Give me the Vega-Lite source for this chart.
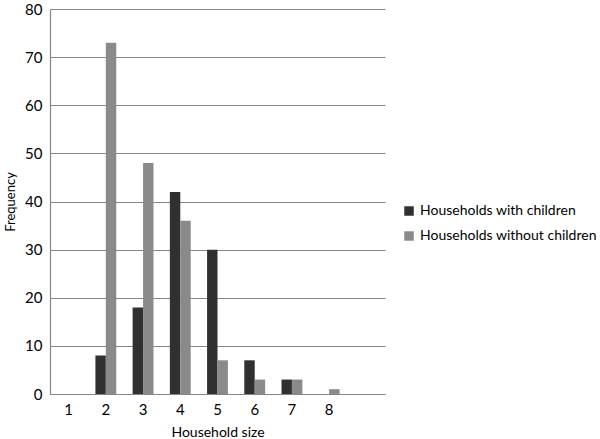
{
  "$schema": "https://vega.github.io/schema/vega-lite/v6.json",
  "autosize": {"type": "none"},
  "padding": {"left": 50, "top": 9, "right": 215, "bottom": 45},
  "width": 335,
  "height": 385,
  "background": "white",
  "config": {
    "view": {"stroke": null},
    "font": "Lato",
    "axis": {"labelFont": "Lato", "titleFont": "Lato", "labelColor": "#000", "titleColor": "#000", "titleFontWeight": "normal"}
  },
  "data": {
    "values": [
      {"size": 1, "group": "Households with children", "freq": 0},
      {"size": 2, "group": "Households with children", "freq": 8},
      {"size": 3, "group": "Households with children", "freq": 18},
      {"size": 4, "group": "Households with children", "freq": 42},
      {"size": 5, "group": "Households with children", "freq": 30},
      {"size": 6, "group": "Households with children", "freq": 7},
      {"size": 7, "group": "Households with children", "freq": 3},
      {"size": 8, "group": "Households with children", "freq": 0},
      {"size": 1, "group": "Households without children", "freq": 0},
      {"size": 2, "group": "Households without children", "freq": 73},
      {"size": 3, "group": "Households without children", "freq": 48},
      {"size": 4, "group": "Households without children", "freq": 36},
      {"size": 5, "group": "Households without children", "freq": 7},
      {"size": 6, "group": "Households without children", "freq": 3},
      {"size": 7, "group": "Households without children", "freq": 3},
      {"size": 8, "group": "Households without children", "freq": 1}
    ]
  },
  "mark": {"type": "bar"},
  "encoding": {
    "x": {
      "field": "size", "type": "ordinal",
      "scale": {"domain": [1, 2, 3, 4, 5, 6, 7, 8, 9], "paddingInner": 0.44, "paddingOuter": 0.22},
      "axis": {
        "title": "Household size", "titleFontSize": 14, "titlePadding": 8,
        "labelAngle": 0, "labelFontSize": 15, "labelPadding": 8,
        "labelExpr": "datum.value == 9 ? '' : datum.label",
        "ticks": false, "domainColor": "#868686", "domainWidth": 1.2, "grid": false
      }
    },
    "xOffset": {"field": "group", "type": "nominal", "scale": {"paddingInner": 0, "paddingOuter": 0}},
    "y": {
      "field": "freq", "type": "quantitative",
      "scale": {"domain": [0, 80], "nice": false},
      "axis": {
        "title": "Frequency", "titleFontSize": 13, "titlePadding": 7,
        "values": [0, 10, 20, 30, 40, 50, 60, 70, 80],
        "labelFontSize": 15, "labelPadding": 8, "ticks": false,
        "domainColor": "#868686", "domainWidth": 1.2,
        "gridColor": "#868686", "gridWidth": 1.2
      }
    },
    "color": {
      "field": "group", "type": "nominal",
      "scale": {"domain": ["Households with children", "Households without children"], "range": ["#303030", "#8a8a8a"]},
      "legend": {
        "title": null, "orient": "none", "legendX": 352, "legendY": 195,
        "symbolType": "square", "symbolSize": 90, "labelFontSize": 14, "labelFont": "Lato",
        "labelLimit": 0, "rowPadding": 11, "labelOffset": 4, "symbolStrokeWidth": 0, "labelColor": "#000"
      }
    }
  }
}
